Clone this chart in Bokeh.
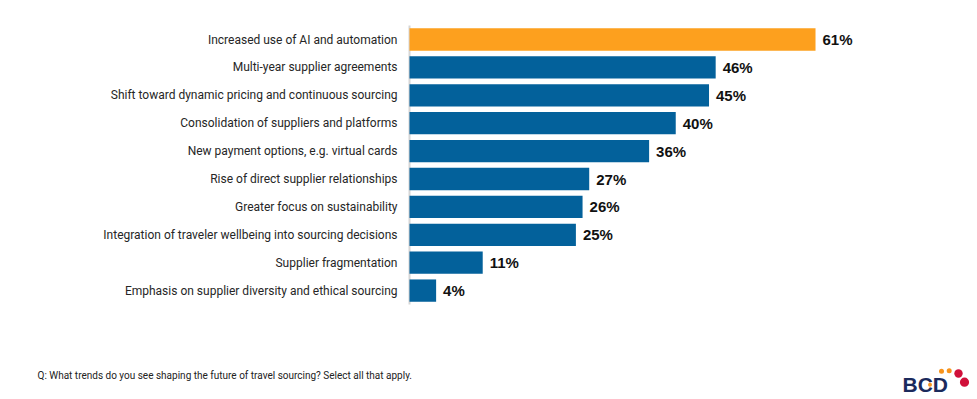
from bokeh.plotting import figure
from bokeh.models import ColumnDataSource, Range1d
from bokeh.embed import file_html
from bokeh.resources import INLINE
from bokeh.core.properties import value

categories = [
    "Increased use of AI and automation",
    "Multi-year supplier agreements",
    "Shift toward dynamic pricing and continuous sourcing",
    "Consolidation of suppliers and platforms",
    "New payment options, e.g. virtual cards",
    "Rise of direct supplier relationships",
    "Greater focus on sustainability",
    "Integration of traveler wellbeing into sourcing decisions",
    "Supplier fragmentation",
    "Emphasis on supplier diversity and ethical sourcing",
]
values = [61, 46, 45, 40, 36, 27, 26, 25, 11, 4]
highlight = "Increased use of AI and automation"
footnote = "Q: What trends do you see shaping the future of travel sourcing? Select all that apply."

BLUE = "#03619B"
ORANGE = "#FDA01E"

W, H = 970, 395
PX_PER_UNIT = 6.656      # horizontal scale
ROW = 27.9               # row pitch in px
X0_PX = 409              # page x of value 0
Y0_PX = 39               # page y of first row centre

n = len(categories)
rows = [-i for i in range(n)]
colors = [ORANGE if c == highlight else BLUE for c in categories]
labels = [f"{v}%" for v in values]
src = ColumnDataSource(dict(y=rows, cat=categories, val=values, color=colors,
                            label=labels, zero=[0] * n))

p = figure(width=W, height=H, output_backend="svg", toolbar_location=None,
           x_range=Range1d(-X0_PX / PX_PER_UNIT, (W - X0_PX) / PX_PER_UNIT),
           y_range=Range1d(-(H - Y0_PX) / ROW, Y0_PX / ROW),
           x_axis_location=None, y_axis_location=None,
           min_border_left=0, min_border_right=0, min_border_top=0, min_border_bottom=0)
p.grid.visible = False
p.outline_line_color = None

# axis line at zero
p.segment(x0=0, x1=0, y0=max(rows) + 0.5, y1=min(rows) - 0.5,
          line_color="#d6d6d6", line_width=2)

p.hbar(y="y", right="val", left=0, height=0.8, color="color", source=src, line_color=None)
p.text(x="val", y="y", text="label", source=src, x_offset=7,
       text_baseline="middle", text_align="left",
       text_font=value("Liberation Sans"), text_font_style="bold",
       text_font_size="15px", text_color="#111111")
p.text(x="zero", y="y", text="cat", source=src, x_offset=-12,
       text_baseline="middle", text_align="right",
       text_font=value("Roboto"), text_font_size="12px", text_color="#262626")

# footer in page-pixel coordinates
p.extra_x_ranges = {"px": Range1d(0, W)}
p.extra_y_ranges = {"px": Range1d(H, 0)}
p.text(x=[37], y=[375], text=[footnote], x_range_name="px", y_range_name="px",
       text_baseline="middle", text_font=value("Roboto"), text_font_size="10px",
       text_color="#222222")
p.text(x=[902], y=[384], text=["BCD"], x_range_name="px", y_range_name="px",
       text_baseline="middle", text_font=value("Liberation Sans"), text_font_style="bold",
       text_font_size="21px", text_color="#1B2A5C")
p.circle(x=[941, 948.7, 929.5], y=[370.7, 370.3, 384.3], radius=[2.5, 2.5, 2.0],
         x_range_name="px", y_range_name="px", color="#F7941D", line_color=None)
p.circle(x=[958, 964], y=[373, 381.7], radius=[4.2, 4.6],
         x_range_name="px", y_range_name="px", color="#D0103A", line_color=None)

open("out.html", "w").write(file_html(p, INLINE))
